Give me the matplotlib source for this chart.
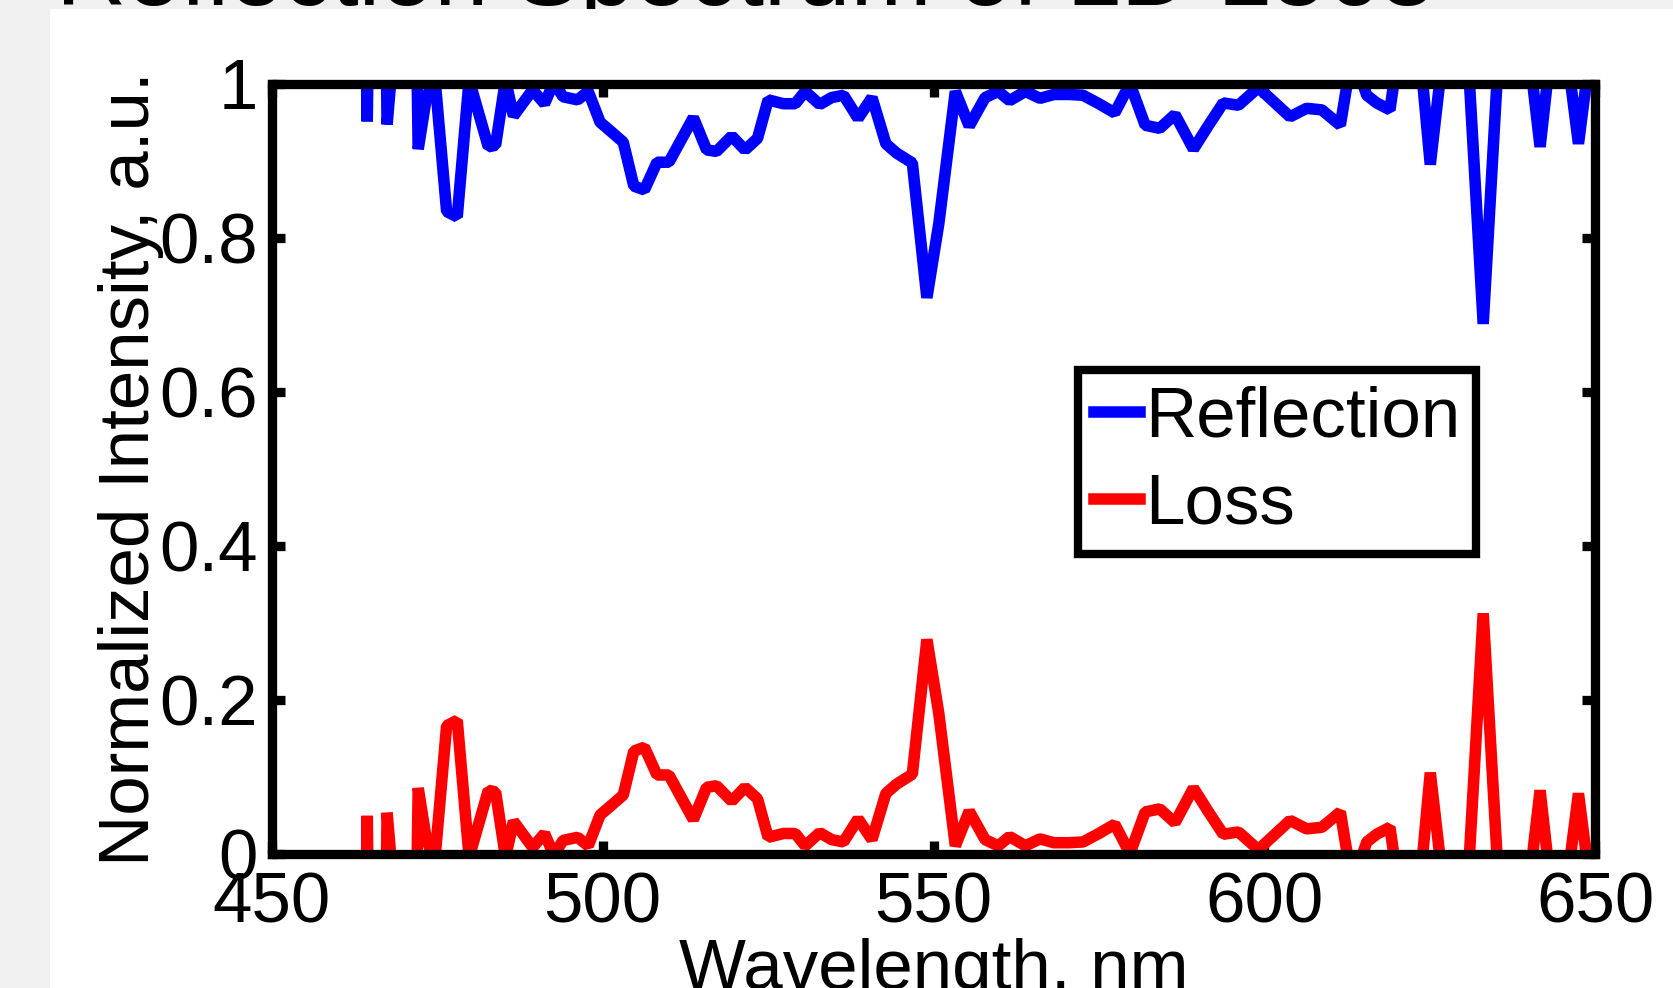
import matplotlib
matplotlib.use("Agg")
import matplotlib.pyplot as plt
from matplotlib.patches import Rectangle

plt.rcParams['font.family'] = ['Liberation Sans', 'DejaVu Sans']

# wavelength samples (nm)
wavelength = [450.0, 455.0, 460.0, 463.0, 464.4, 465.9, 467.4, 468.9, 470.6, 472.1,
              473.3, 474.6, 476.4, 478.0, 479.8, 482.7, 483.8, 485.3, 486.5, 489.4,
              491.2, 492.6, 494.0, 496.2, 497.8, 499.6, 501.5, 503.1, 504.7, 506.3,
              508.2, 510.0, 513.7, 515.7, 517.2, 519.5, 521.5, 523.4, 525.0, 527.3,
              529.1, 530.6, 532.8, 534.6, 536.4, 538.6, 540.7, 542.8, 544.4, 546.8,
              549.0, 550.8, 553.3, 555.4, 557.8, 559.8, 561.5, 563.9, 566.1, 568.2,
              570.5, 572.6, 575.0, 577.4, 579.7, 582.0, 584.2, 586.5, 589.3, 591.5,
              593.8, 596.1, 599.1, 601.0, 603.9, 606.4, 608.7, 611.5, 613.3, 615.5,
              617.0, 619.0, 620.9, 622.9, 625.1, 627.3, 629.3, 630.9, 633.1, 635.3,
              637.5, 639.5, 641.7, 643.8, 645.3, 647.5, 649.7, 650.0]

reflection = [1.4, 1.6, 1.5, 2.0, 0.951, 2.0, 0.947, 1.1, 1.8, 0.915,
              0.98, 1.01, 0.834, 0.827, 1.005, 0.918, 0.92, 1.005, 0.958, 0.992,
              0.974, 1.002, 0.983, 0.979, 0.99, 0.95, 0.936, 0.924, 0.867, 0.862,
              0.898, 0.898, 0.956, 0.914, 0.912, 0.932, 0.914, 0.929, 0.979, 0.974,
              0.974, 0.99, 0.973, 0.982, 0.985, 0.955, 0.982, 0.922, 0.91, 0.897,
              0.722, 0.818, 0.99, 0.945, 0.982, 0.99, 0.978, 0.99, 0.981, 0.986,
              0.986, 0.985, 0.974, 0.962, 1.0, 0.946, 0.942, 0.96, 0.915, 0.945,
              0.975, 0.972, 0.995, 0.98, 0.957, 0.968, 0.966, 0.946, 1.04, 0.985,
              0.975, 0.966, 1.08, 1.1, 0.895, 1.06, 1.05, 1.02, 0.688, 1.02,
              1.1, 1.08, 0.918, 1.08, 1.07, 0.922, 1.07, 1.07]

loss = [-0.4, -0.6, -0.5, -1.0, 0.049, -1.0, 0.053, -0.1, -0.8, 0.085,
        0.02, -0.01, 0.166, 0.173, -0.005, 0.082, 0.08, -0.005, 0.042, 0.008,
        0.026, -0.002, 0.017, 0.021, 0.01, 0.05, 0.064, 0.076, 0.133, 0.138,
        0.102, 0.102, 0.044, 0.086, 0.088, 0.068, 0.086, 0.071, 0.021, 0.026,
        0.026, 0.01, 0.027, 0.018, 0.015, 0.045, 0.018, 0.078, 0.09, 0.103,
        0.278, 0.182, 0.01, 0.055, 0.018, 0.01, 0.022, 0.01, 0.019, 0.014,
        0.014, 0.015, 0.026, 0.038, 0.0, 0.054, 0.058, 0.04, 0.085, 0.055,
        0.025, 0.028, 0.005, 0.02, 0.043, 0.032, 0.034, 0.054, -0.04, 0.015,
        0.025, 0.034, -0.08, -0.1, 0.105, -0.06, -0.05, -0.02, 0.312, -0.02,
        -0.1, -0.08, 0.082, -0.08, -0.07, 0.078, -0.07, -0.07]

W, H = 1673, 988
fig = plt.figure(figsize=(W / 100, H / 100), dpi=100, facecolor='#f0f0f0')

# title sits mostly above the cropped edge; white panel covers the rest
fig.text(745 / W, 1 - 5 / H, 'Reflection Spectrum of LD 1563', fontsize=70,
         ha='center', va='baseline', color='black', zorder=-2)
fig.add_artist(Rectangle((50 / W, 0), 1 - 50 / W, 1 - 9 / H, transform=fig.transFigure,
                         facecolor='white', edgecolor='none', zorder=-1))

ax = fig.add_axes([272 / W, 1 - 853.5 / H, (1595 - 272) / W, (853.5 - 83.7) / H])
ax.plot(wavelength, reflection, color='#0000ff', lw=8.3, label='Reflection',
        solid_joinstyle='bevel')
ax.plot(wavelength, loss, color='#ff0000', lw=8.3, label='Loss', solid_joinstyle='bevel')

ax.set_xlim(450, 650)
ax.set_ylim(0, 1)
ax.set_xticks([450, 500, 550, 600, 650])
ax.set_yticks([0, 0.2, 0.4, 0.6, 0.8, 1])
ax.set_yticklabels(['0', '0.2', '0.4', '0.6', '0.8', '1'])
ax.tick_params(direction='in', length=9.5, width=6.7, labelsize=51, top=True, right=True,
               pad=10)
ax.tick_params(axis='x', pad=13)
for s in ax.spines.values():
    s.set_linewidth(6.7)

ax.set_xlabel('Wavelength, nm', fontsize=51, labelpad=0)
ax.set_ylabel('Normalized Intensity, a.u.', fontsize=51, labelpad=-3)

leg = ax.legend(loc='upper left', bbox_to_anchor=(1078 / W, 1 - 370 / H),
                bbox_transform=fig.transFigure, fontsize=51, frameon=True, fancybox=False,
                framealpha=1, handlelength=0.65, handletextpad=0.08, borderpad=0.22,
                labelspacing=0.3, borderaxespad=0)
leg.get_frame().set_edgecolor('black')
leg.get_frame().set_linewidth(6.0)

fig.savefig('out.png', dpi=100, facecolor=fig.get_facecolor())
